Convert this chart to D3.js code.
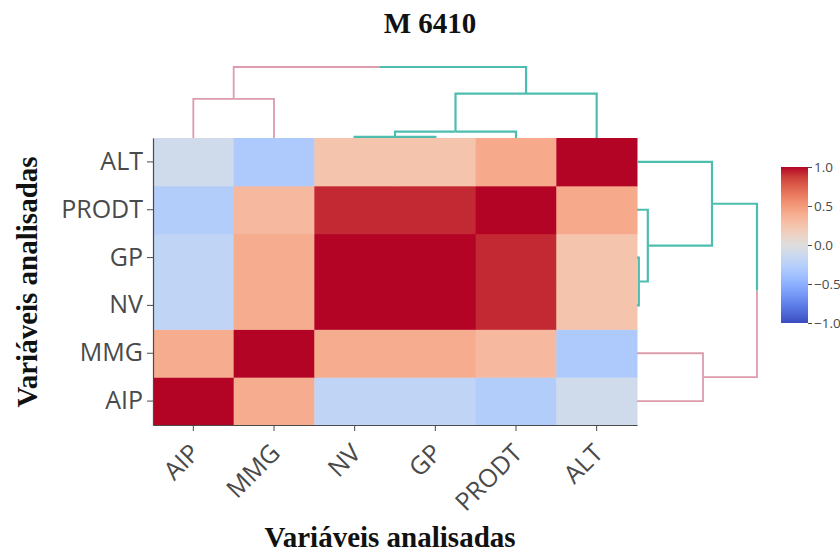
<!DOCTYPE html>
<html>
<head>
<meta charset="utf-8">
<script src="https://cdn.jsdelivr.net/npm/d3@7"></script>
<style>
  html, body { margin: 0; padding: 0; background: #fff; }
  svg { display: block; }
</style>
</head>
<body>
<svg id="chart" width="840" height="555"></svg>
<script>
// ---------------- data ----------------
const title = "M 6410";
const axisTitle = "Variáveis analisadas";
const variables = ["AIP", "MMG", "NV", "GP", "PRODT", "ALT"];
const rowAIP   = [ 1.00,  0.40, -0.20, -0.20, -0.28, -0.10];
const rowMMG   = [ 0.40,  1.00,  0.40,  0.40,  0.32, -0.31];
const rowNV    = [-0.20,  0.40,  1.00,  1.00,  0.92,  0.25];
const rowGP    = [-0.20,  0.40,  1.00,  1.00,  0.92,  0.25];
const rowPRODT = [-0.28,  0.32,  0.92,  0.92,  1.00,  0.42];
const rowALT   = [-0.10, -0.31,  0.25,  0.25,  0.42,  1.00];
const corr = [rowAIP, rowMMG, rowNV, rowGP, rowPRODT, rowALT];
// dendrogram merges (height relative to root)
const mergeIds      = ["NV+GP", "NV+GP+PRODT", "ALT+group", "AIP+MMG", "root"];
const mergeChildren = [["NV", "GP"], ["NV+GP", "PRODT"], ["NV+GP+PRODT", "ALT"], ["AIP", "MMG"], ["AIP+MMG", "ALT+group"]];
const mergeHeights  = [0.015, 0.09, 0.625, 0.55, 1.0];
const clusterColors = {"AIP+MMG": "#dd9cad", "ALT+group": "#4dbdaf"};
const cbTicks = [-1, -0.5, 0, 0.5, 1];
// coolwarm colour stops
const cwStops = [[59,76,192],[77,104,215],[98,130,234],[119,154,247],[141,176,254],[163,194,255],[184,208,249],[204,217,238],[221,221,221],[236,211,197],[245,196,173],[247,177,148],[244,154,123],[236,127,99],[222,96,77],[203,62,56],[180,4,38]];

// ---------------- layout ----------------
const svg = d3.select("#chart");
const L = 153, R = 637, T = 138, B = 425;
const textCol = "#4a4a4a";

const x = d3.scaleBand().domain(variables).range([L, R]);
const y = d3.scaleBand().domain(variables).range([B, T]);
const cwColors = cwStops.map(c => d3.rgb(c[0], c[1], c[2]).toString());
const color = d3.scaleLinear()
  .domain(cwColors.map((c, i) => -1 + 2 * i / (cwColors.length - 1)))
  .range(cwColors).interpolate(d3.interpolateRgb).clamp(true);

// ---------------- heatmap ----------------
const cells = [];
variables.forEach((rv, i) => variables.forEach((cv, j) => cells.push({row: rv, col: cv, v: corr[i][j]})));
svg.append("g").selectAll("rect").data(cells).join("rect")
  .attr("x", d => x(d.col)).attr("y", d => y(d.row))
  .attr("width", x.bandwidth() + 0.5).attr("height", y.bandwidth() + 0.5)
  .attr("fill", d => color(d.v));

// axes
const xAxis = svg.append("g").attr("transform", `translate(0,${B})`)
  .call(d3.axisBottom(x).tickSize(6).tickSizeOuter(0));
xAxis.select(".domain").attr("stroke", textCol).attr("stroke-width", 1.2);
xAxis.selectAll(".tick line").attr("stroke", textCol);
xAxis.selectAll(".tick text")
  .attr("font-family", "Open Sans").attr("font-size", 25).attr("fill", textCol)
  .attr("text-anchor", "end").attr("dy", null).attr("y", null)
  .attr("transform", "translate(3,25) rotate(-45)")
  .attr("dominant-baseline", "middle");

const yAxis = svg.append("g").attr("transform", `translate(${L},0)`)
  .call(d3.axisLeft(y).tickSize(6).tickSizeOuter(0).tickPadding(4));
yAxis.select(".domain").attr("stroke", textCol).attr("stroke-width", 1.2);
yAxis.selectAll(".tick line").attr("stroke", textCol);
yAxis.selectAll(".tick text")
  .attr("font-family", "Open Sans").attr("font-size", 25).attr("fill", textCol);

// ---------------- dendrograms ----------------
const nodes = {};
variables.forEach(v => nodes[v] = {id: v, h: 0, leaf: true});
mergeIds.forEach((id, k) => {
  nodes[id] = {id, h: mergeHeights[k], children: mergeChildren[k].map(c => nodes[c])};
});
const root = nodes["root"];
function assignCluster(n, c) {
  n.cluster = c;
  if (n.children) n.children.forEach(ch => assignCluster(ch, c));
}
root.children.forEach(ch => assignCluster(ch, ch.id));

function positions(n, pos) {
  if (n.leaf) return pos(n.id);
  const ps = n.children.map(ch => positions(ch, pos));
  n.p = d3.mean(ps);
  return n.p;
}
function collectLinks(n, pos, out) {
  if (!n.children) return;
  n.children.forEach(ch => {
    const cp = ch.leaf ? pos(ch.id) : ch.p;
    out.push({childPos: cp, childH: ch.h, parentPos: n.p, parentH: n.h, cluster: ch.cluster});
    collectLinks(ch, pos, out);
  });
}

// top dendrogram
const hTop = d3.scaleLinear().domain([0, 1]).range([T, 67]);
const xc = v => x(v) + x.bandwidth() / 2;
positions(root, xc);
const topLinks = [];
collectLinks(root, xc, topLinks);
svg.append("g").selectAll("path").data(topLinks).join("path")
  .attr("d", d => `M${d.childPos},${hTop(d.childH)}V${hTop(d.parentH)}H${d.parentPos}`)
  .attr("fill", "none")
  .attr("stroke", d => clusterColors[d.cluster])
  .attr("stroke-width", d => d.cluster === "AIP+MMG" ? 1.8 : 2.2);

// right dendrogram
const hRight = d3.scaleLinear().domain([0, 1]).range([R, 757]);
const yc = v => y(v) + y.bandwidth() / 2;
positions(root, yc);
const rightLinks = [];
collectLinks(root, yc, rightLinks);
svg.append("g").selectAll("path").data(rightLinks).join("path")
  .attr("d", d => `M${hRight(d.childH)},${d.childPos}H${hRight(d.parentH)}V${d.parentPos}`)
  .attr("fill", "none")
  .attr("stroke", d => clusterColors[d.cluster])
  .attr("stroke-width", d => d.cluster === "AIP+MMG" ? 1.8 : 2.2);

// ---------------- colorbar ----------------
const cbX = 781, cbW = 27;
const cbY = d3.scaleLinear().domain([-1, 1]).range([323, 167]);
const grad = svg.append("defs").append("linearGradient")
  .attr("id", "cbgrad").attr("x1", 0).attr("y1", 1).attr("x2", 0).attr("y2", 0);
cwColors.forEach((c, i) => grad.append("stop")
  .attr("offset", i / (cwColors.length - 1)).attr("stop-color", c));
svg.append("rect").attr("x", cbX).attr("y", cbY(1)).attr("width", cbW)
  .attr("height", cbY(-1) - cbY(1)).attr("fill", "url(#cbgrad)");
const cbAxis = svg.append("g").attr("transform", `translate(${cbX + cbW},0)`)
  .call(d3.axisRight(cbY).tickValues(cbTicks).tickFormat(d3.format(".1f")).tickSize(4).tickPadding(2));
cbAxis.select(".domain").remove();
cbAxis.selectAll(".tick line").attr("stroke", textCol);
cbAxis.selectAll(".tick text").attr("font-family", "Open Sans").attr("font-size", 13.5).attr("fill", textCol);

// ---------------- titles ----------------
svg.append("text").attr("x", 430).attr("y", 33).attr("text-anchor", "middle")
  .attr("font-family", "Liberation Serif").attr("font-weight", "bold").attr("font-size", 29)
  .attr("fill", "#111").text(title);
svg.append("text").attr("x", 390).attr("y", 547).attr("text-anchor", "middle")
  .attr("font-family", "Liberation Serif").attr("font-weight", "bold").attr("font-size", 29)
  .attr("fill", "#111").text(axisTitle);
svg.append("text").attr("transform", "translate(37,282) rotate(-90)").attr("text-anchor", "middle")
  .attr("font-family", "Liberation Serif").attr("font-weight", "bold").attr("font-size", 29)
  .attr("fill", "#111").text(axisTitle);
</script>
</body>
</html>
